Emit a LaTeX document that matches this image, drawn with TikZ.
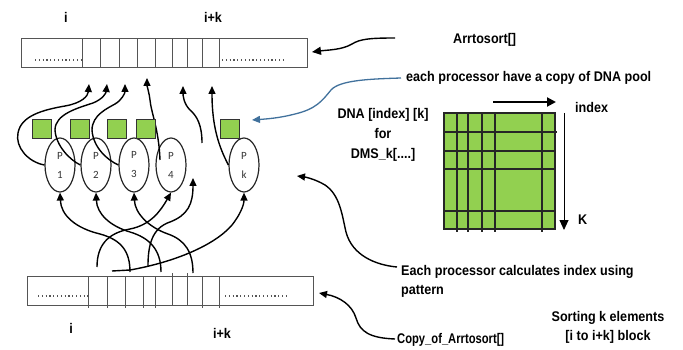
\documentclass[tikz,border=0pt]{standalone}
\usepackage{fontspec}
\setmainfont{Liberation Sans}
\newfontfamily\hfont[FakeStretch=0.9]{Liberation Sans}
\newfontfamily\hnarrow[FakeStretch=0.8]{Liberation Sans}
\newfontfamily\pfont{Carlito}
\usetikzlibrary{arrows.meta,shapes.geometric}
\definecolor{dnagreen}{HTML}{92D050}
\definecolor{linkblue}{HTML}{41719C}
\definecolor{cellgray}{HTML}{555555}

\begin{document}
\begin{tikzpicture}[x=1pt,y=-1pt,
  lbl/.style={font=\hfont\bfseries\fontsize{14}{16}\selectfont, inner sep=0pt},
  arraybox/.style={draw=cellgray, line width=1pt, rectangle, inner sep=0pt,
    minimum width=286pt, minimum height=29pt},
  cell/.style={draw=cellgray, line width=0.9pt},
  dots/.style={draw=cellgray, line width=1.2pt, dash pattern=on 1.2pt off 2.6pt},
  proc/.style={draw=black!85, line width=1.2pt, ellipse, minimum width=30pt,
    minimum height=54pt, inner sep=0pt, align=center, text=black!80,
    font=\pfont\fontsize{11}{19}\selectfont},
  gsq/.style={draw=black!80, line width=0.7pt, fill=dnagreen, rectangle,
    minimum size=19pt, inner sep=0pt},
  conn/.style={draw=black, line width=1.4pt, -{Triangle[width=7pt,length=8pt]}},
  grid/.style={draw=black!85, line width=1.1pt}
]
\useasboundingbox (0,0) rectangle (683,350);

% ---------- top array ----------
\node[arraybox] (arrtop) at (164,53.5) {};
\foreach \x in {82,100,119,137,155,172,187,202,219}
  \draw[cell] (\x,39) -- (\x,68);
\draw[dots] (35,60) -- (82,60);
\draw[dots] (222,60) -- (284,60);
\node[lbl] (ilbl) at (66,17) {i};
\node[lbl] (iklbl) at (213,17) {i+k};

% ---------- bottom array ----------
\node[arraybox] (arrbot) at (170,290.5) {};
\foreach \x in {88,107,125,143,155,202,219}
  \draw[cell] (\x,276) -- (\x,308);
\foreach \x in {172,187}
  \draw[cell] (\x,273) -- (\x,305);
\draw[dots] (38,296) -- (88,296);
\draw[dots] (225,296) -- (288,296);
\node[lbl] (ilblb) at (71,328) {i};
\node[lbl] (iklblb) at (222,333) {i+k};

% ---------- processors ----------
\node[proc] (p1) at (60,165) {P\\1};
\node[proc] (p2) at (96,165) {P\\2};
\node[proc] (p3) at (134,165) {P\\3};
\node[proc] (p4) at (171,165) {P\\4};
\node[proc] (pk) at (244,165) {P\\k};

% write-back targets in the top array
\coordinate (t1) at (89,84);
\coordinate (t2) at (107,84);
\coordinate (t3) at (125,84);
\coordinate (t4) at (147,78);
\coordinate (t5) at (183,86);
\coordinate (t6) at (212,86);
\coordinate (q4) at (160,160);
\coordinate (q5) at (202,143);

% processor outputs to the top array
\draw[conn] (p1.west) .. controls (28,162) and (15,147) .. (18,133)
  .. controls (21,116) and (42,110) .. (65,106)
  .. controls (82,103) and (88,96) .. (t1);
\draw[conn] (p2.west) .. controls (70,160) and (56,146) .. (55,130)
  .. controls (55,114) and (78,108) .. (93,103)
  .. controls (103,99) and (106,93) .. (t2);
\draw[conn] (p3.west) .. controls (107,160) and (93,147) .. (92,130)
  .. controls (92,115) and (108,108) .. (115,104)
  .. controls (122,100) and (125,93) .. (t3);
\draw[conn] (q4) .. controls (159,130) and (151,112) .. (150,100)
  .. controls (149,92) and (147,86) .. (t4);
\draw[conn] (q5) .. controls (202,125) and (197,116) .. (190,110)
  .. controls (184,104) and (183,96) .. (t5);
\draw[conn] (pk.west) .. controls (219,147) and (212,127) .. (t6);

% inputs from the copy array
\coordinate (s1) at (130,272);
\coordinate (s2) at (161,272);
\coordinate (s3) at (193,273);
\coordinate (s4) at (97,267);
\coordinate (s5) at (148,266);
\coordinate (s6) at (112,271);
\coordinate (t7) at (193,178);

\draw[conn] (s1) .. controls (130,252) and (122,240) .. (100,234)
  .. controls (75,228) and (61,215) .. (p1.south);
\draw[conn] (s2) .. controls (161,250) and (150,238) .. (130,232)
  .. controls (110,226) and (97,214) .. (p2.south);
\draw[conn] (s3) .. controls (193,252) and (185,240) .. (168,234)
  .. controls (148,227) and (135,213) .. (p3.south);
\draw[conn] (s4) .. controls (97,245) and (108,233) .. (130,229)
  .. controls (150,225) and (160,212) .. (p4.south);
\draw[conn] (s5) .. controls (148,245) and (152,228) .. (170,222)
  .. controls (188,215) and (193,204) .. (t7);
\draw[conn] (s6) -- (130,270) .. controls (175,262) and (215,245) .. (232,225)
  .. controls (240,215) and (244,205) .. (pk.south);

% ---------- DNA pool copies ----------
\node[gsq] (g1) at (41.5,128.5) {};
\node[gsq] (g2) at (79.5,128.5) {};
\node[gsq] (g3) at (116.5,128.5) {};
\node[gsq] (g4) at (146,128.5) {};
\node[gsq] (g5) at (229.5,128.5) {};

% ---------- DNA matrix ----------
\node[draw=black!85, line width=1.1pt, fill=dnagreen, rectangle, inner sep=0pt,
  minimum width=111pt, minimum height=116pt] (dna) at (499.5,171) {};
\foreach \x in {457,468,482,495,542}
  \draw[grid] (\x,113) -- (\x,232);
\draw[grid] (444,132) -- (557,132);
\foreach \y in {151,169,211}
  \draw[grid] (444,\y) -- (555,\y);
\coordinate (ix0) at (493,102);
\coordinate (ix1) at (556,102);
\draw[line width=2pt, -{Triangle[width=9pt,length=9pt]}] (ix0) -- (ix1);
\coordinate (k0) at (564,113);
\coordinate (k1) at (564,230);
\draw[line width=0.9pt, -{Triangle[width=9pt,length=10pt]}] (k0) -- (k1);
\node[lbl, anchor=west] (idx) at (575,107) {index};
\node[lbl, anchor=west] (klbl) at (578,220) {K};

\node[lbl, align=center, font=\hfont\bfseries\fontsize{14}{20}\selectfont]
  (dnatxt) at (383,135) {DNA [index] [k]\\for\\DMS\_k[....]};

% ---------- annotations ----------
\node[lbl, anchor=west] (arrtxt) at (453,40) {Arrtosort[]};
\node[lbl, anchor=west] (pooltxt) at (406,78) {each processor have a copy of DNA pool};
\node[lbl, anchor=west, align=left, font=\hfont\bfseries\fontsize{14}{19}\selectfont]
  (calctxt) at (401,281) {Each processor calculates index using\\pattern};
\node[lbl, anchor=west, font=\hnarrow\bfseries\fontsize{14}{16}\selectfont]
  (copytxt) at (397,340) {Copy\_of\_Arrtosort[]};
\node[lbl, align=center, font=\hfont\bfseries\fontsize{14}{19}\selectfont]
  (sorttxt) at (608,327) {Sorting k elements\\{[}i to i+k] block};

\coordinate (a0) at (395,38);
\coordinate (a1) at (312,52);
\coordinate (b0) at (401,78);
\coordinate (b1) at (252,120);
\coordinate (c0) at (397,267);
\coordinate (c1) at (297,176);
\coordinate (d0) at (395,339);
\coordinate (d1) at (319,293);

\draw[conn, -{Triangle[width=8pt,length=9pt]}] (a0)
  .. controls (370,38) and (360,39) .. (352,44)
  .. controls (342,50) and (327,50) .. (a1);
\draw[line width=1.3pt, draw=linkblue, color=linkblue, -{Triangle[width=7pt,length=8pt]}]
  (b0) .. controls (370,79) and (340,80) .. (331,90)
  .. controls (322,101) and (316,109) .. (295,114)
  .. controls (280,118) and (266,119) .. (b1);
\draw[conn] (c0) .. controls (375,265) and (352,255) .. (346,232)
  .. controls (342,215) and (340,195) .. (325,185)
  .. controls (315,179) and (305,177) .. (c1);
\draw[conn] (d0) .. controls (370,338) and (360,332) .. (356,318)
  .. controls (352,305) and (340,297) .. (d1);
\end{tikzpicture}
\end{document}
